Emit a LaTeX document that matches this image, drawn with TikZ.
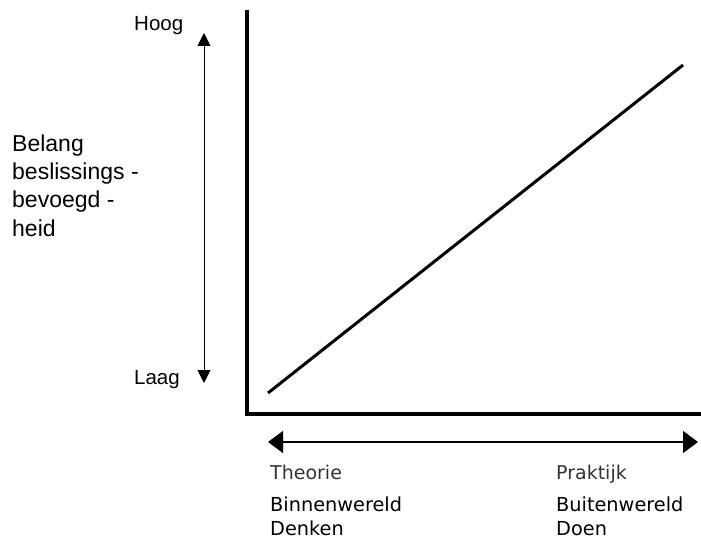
\documentclass[tikz,border=0pt]{standalone}
\usepackage{fontspec}
\setmainfont{Liberation Sans}
\newfontfamily\verd{DejaVu Sans}
\usetikzlibrary{arrows.meta}
\begin{document}
\begin{tikzpicture}[x=1pt,y=-1pt,
  axis/.style={line width=4pt},
  vdbl/.style={line width=1pt,{Triangle[length=13pt,width=13pt]}-{Triangle[length=13pt,width=13pt]}},
  hdbl/.style={line width=1.1pt,{Triangle[length=15pt,width=22pt]}-{Triangle[length=15pt,width=22pt]}},
  lbl/.style={inner sep=0pt,anchor=base west,font=\fontsize{20.5}{24}\selectfont},
  blbl/.style={inner sep=0pt,anchor=base west,align=left,font=\fontsize{23}{28.3}\selectfont},
  vlbl/.style={inner sep=0pt,anchor=base west,font=\verd\fontsize{19}{22}\selectfont,text=black!80},
  vlblb/.style={inner sep=0pt,anchor=base west,align=left,text depth=0pt,font=\verd\fontsize{19.3}{23.5}\selectfont}]
\useasboundingbox (0,0) rectangle (701,540);
% axes
\coordinate (top) at (247,12);
\coordinate (orig) at (247,414);
\coordinate (right) at (701,414);
\draw[axis,line cap=rect] (top) -- (orig) -- (right);
% diagonal
\coordinate (d1) at (268,393);
\coordinate (d2) at (683,65);
\draw[line width=3pt] (d1) -- (d2);
% vertical arrow
\coordinate (vt) at (204,33);
\coordinate (vb) at (204,383);
\draw[vdbl] (vb) -- (vt);
% horizontal arrow
\coordinate (hl) at (268,442);
\coordinate (hr) at (698,442);
\draw[hdbl] (hl) -- (hr);
% labels
\node[lbl] (hoog) at (134,31) {Hoog};
\node[lbl] (laag) at (134,384) {Laag};
\node[blbl] (belang) at (12,236) {Belang\\beslissings -\\bevoegd -\\heid};
\node[vlbl] (theorie) at (270,479) {Theorie};
\node[vlbl] (praktijk) at (556,479) {Praktijk};
\node[vlblb] (binnen) at (270,535) {Binnenwereld\\Denken};
\node[vlblb] (buiten) at (556,535) {Buitenwereld\\Doen};
\end{tikzpicture}
\end{document}
